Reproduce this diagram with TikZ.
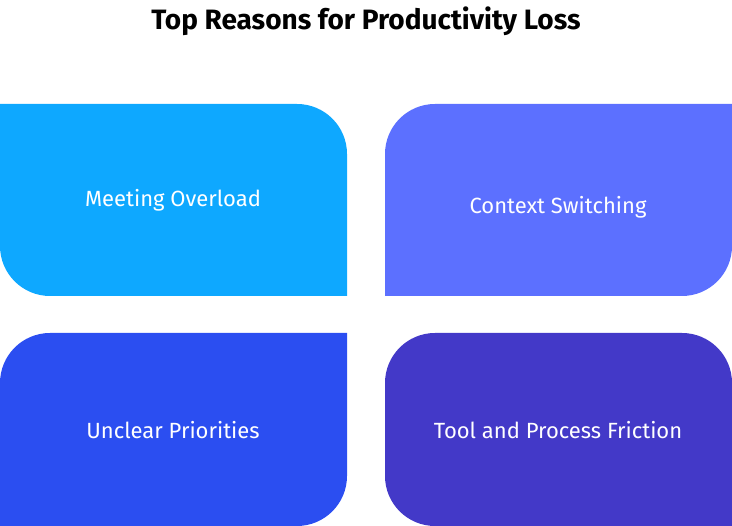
\documentclass[tikz,border=0pt]{standalone}
\usepackage{fontspec}
\setmainfont{Fira Sans}
\definecolor{cA}{HTML}{0EA8FF}
\definecolor{cB}{HTML}{5C70FF}
\definecolor{cC}{HTML}{2B4EF1}
\definecolor{cD}{HTML}{4339C8}
\begin{document}
\begin{tikzpicture}[x=1pt,y=1pt,
  lbl/.style={text=white,font=\fontsize{22}{24}\selectfont}]
\useasboundingbox (0,0) rectangle (732,526);
\fill[cA] (0,422) -- (297,422) arc[start angle=90,end angle=0,radius=50] -- (347,230) -- (50,230) arc[start angle=270,end angle=180,radius=50] -- cycle;
\fill[cB] (385,372) arc[start angle=180,end angle=90,radius=50] -- (732,422) -- (732,280) arc[start angle=0,end angle=-90,radius=50] -- (385,230) -- cycle;
\fill[cC] (0,143) arc[start angle=180,end angle=90,radius=50] -- (347,193) -- (347,50) arc[start angle=0,end angle=-90,radius=50] -- (0,0) -- cycle;
\fill[cD] (385,143) arc[start angle=180,end angle=90,radius=50] -- (682,193) arc[start angle=90,end angle=0,radius=50] -- (732,0) -- (435,0) arc[start angle=270,end angle=180,radius=50] -- cycle;
\node[font=\bfseries\fontsize{28}{30}\selectfont] (title) at (366,505) {Top Reasons for Productivity Loss};
\node[lbl] (a) at (173,326) {Meeting Overload};
\node[lbl] (b) at (558,319) {Context Switching};
\node[lbl] (c) at (173,96) {Unclear Priorities};
\node[lbl] (d) at (558,96) {Tool and Process Friction};
\end{tikzpicture}
\end{document}
